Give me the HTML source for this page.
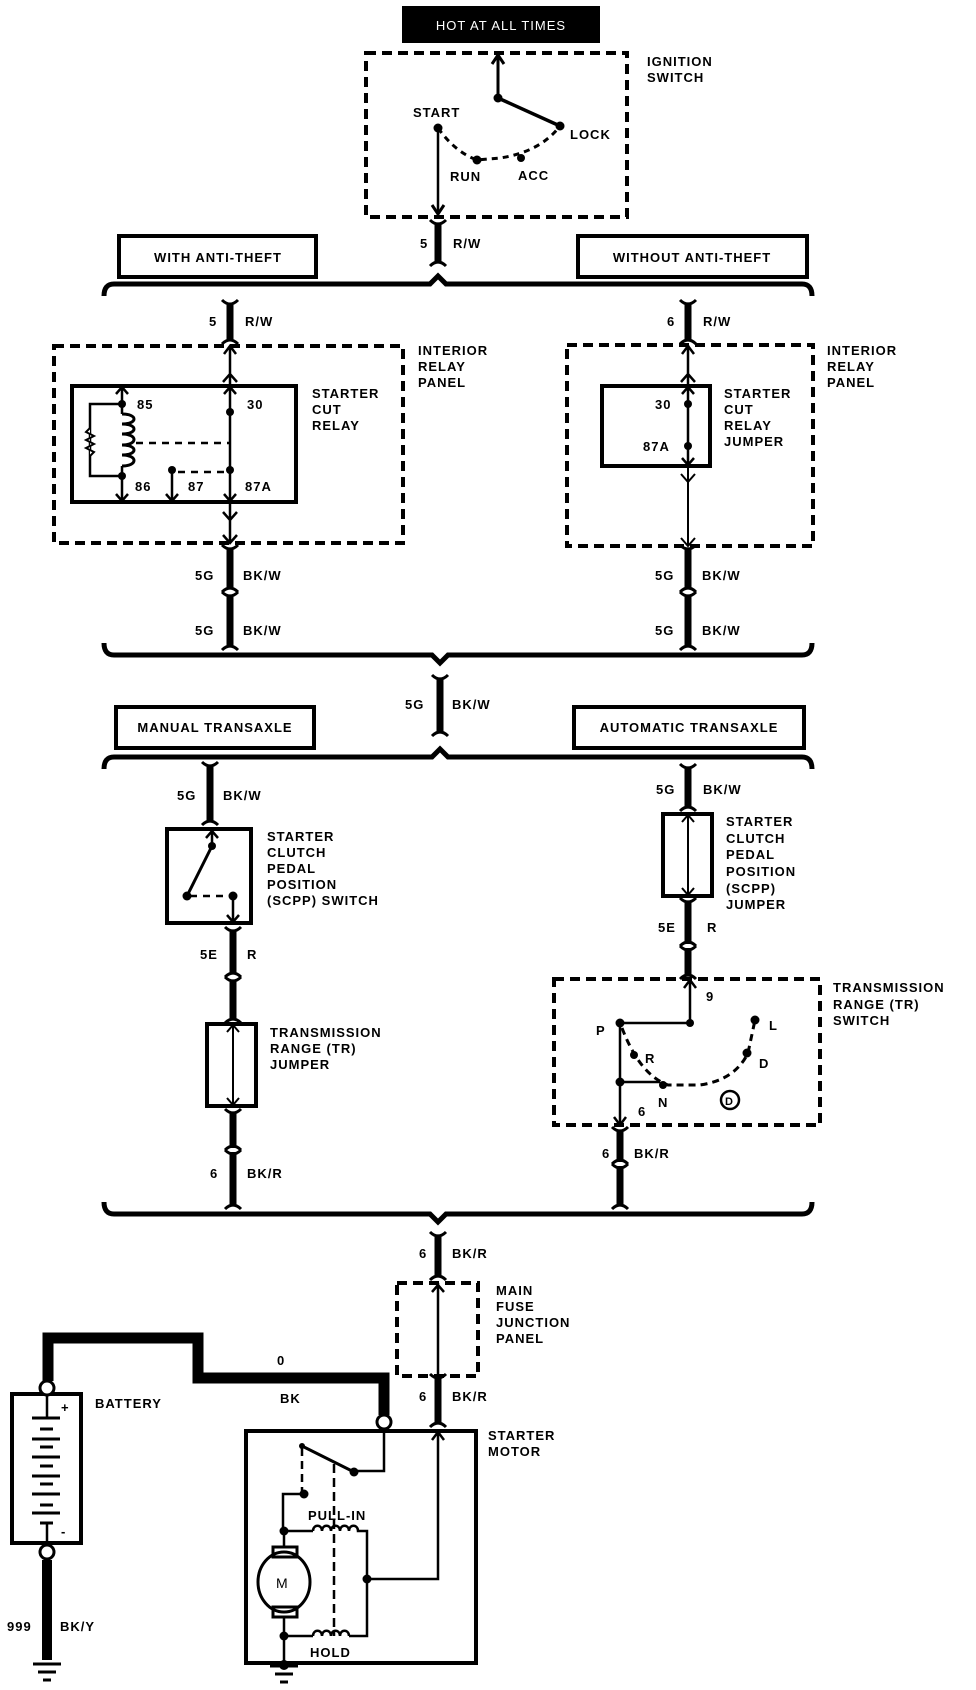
<!DOCTYPE html>
<html><head><meta charset="utf-8"><style>
html,body{margin:0;padding:0;background:#fff}
svg{display:block}
text{font-family:"Liberation Sans",sans-serif;font-weight:bold;font-size:13px;letter-spacing:1px;fill:#000}
</style></head><body>
<svg width="976" height="1690" viewBox="0 0 976 1690" xmlns="http://www.w3.org/2000/svg">
<g stroke="#000" fill="none" stroke-linecap="butt">
<rect x="402" y="6" width="198" height="37" fill="#000" stroke="none"/>
<rect x="366" y="53" width="261" height="164" stroke-width="4" stroke-dasharray="10 6"/>
<line x1="498" y1="98" x2="498" y2="56" stroke-width="3"/>
<path d="M492,64 L498,55 L504,64" stroke-width="3"/>
<line x1="498" y1="98" x2="560" y2="126" stroke-width="3.5"/>
<path d="M438,128 Q455,152 477,160 L500,158 Q540,152 560,126" stroke-width="3" stroke-dasharray="6 5"/>
<line x1="438" y1="128" x2="438" y2="214" stroke-width="2.5"/>
<path d="M432,205 L438,214 L444,205" stroke-width="3"/>
<path d="M104,296 Q104,284 114,284 H430 L438,276 L446,284 H802 Q812,284 812,296" stroke-width="5"/>
<path d="M104,643 Q104,655 114,655 H432 L440,663 L448,655 H802 Q812,655 812,643" stroke-width="5"/>
<path d="M104,769 Q104,757 114,757 H432 L440,749 L448,757 H802 Q812,757 812,769" stroke-width="5"/>
<path d="M104,1202 Q104,1214 114,1214 H430 L438,1222 L446,1214 H802 Q812,1214 812,1202" stroke-width="5"/>
</g>
<g stroke="#000" fill="none" stroke-width="4">
<rect x="119" y="236" width="197" height="41"/>
<rect x="578" y="236" width="229" height="41"/>
<rect x="116" y="707" width="198" height="41"/>
<rect x="574" y="707" width="230" height="41"/>
<rect x="54" y="346" width="349" height="197" stroke-dasharray="10 6"/>
<rect x="72" y="386" width="224" height="116"/>
<rect x="567" y="345" width="246" height="201" stroke-dasharray="10 6"/>
<rect x="602" y="386" width="108" height="80"/>
<rect x="167" y="829" width="84" height="94"/>
<rect x="207" y="1024" width="49" height="82"/>
<rect x="663" y="814" width="49" height="82"/>
<rect x="554" y="979" width="266" height="146" stroke-dasharray="10 6"/>
<rect x="397" y="1283" width="81" height="93" stroke-dasharray="10 6"/>
<rect x="246" y="1431" width="230" height="232"/>
<rect x="12" y="1394" width="69" height="149"/>
</g>
<g stroke="#000" fill="none">
<path stroke-width="7" d="
M438,224V262 M230,304V340 M688,304V340
M230,549V588 M230,596V646 M688,549V588 M688,596V646
M440,679V732 M210,766V821 M688,768V807
M233,931V973 M233,981V1019 M233,1113V1148 M233,1152V1205
M688,902V944 M688,948V975 M620,1131V1162 M620,1166V1205
M438,1236V1276 M438,1378V1423"/>
<path stroke-width="3" d="
M430,220Q438,228 446,220 M430,266Q438,258 446,266
M222,300Q230,308 238,300 M222,344Q230,336 238,344
M680,300Q688,308 696,300 M680,344Q688,336 696,344
M222,545Q230,553 238,545 M222,592Q230,584 238,592 M222,592Q230,600 238,592 M222,650Q230,642 238,650
M680,545Q688,553 696,545 M680,592Q688,584 696,592 M680,592Q688,600 696,592 M680,650Q688,642 696,650
M432,675Q440,683 448,675 M432,736Q440,728 448,736
M202,762Q210,770 218,762 M202,825Q210,817 218,825
M680,764Q688,772 696,764 M680,811Q688,803 696,811
M225,927Q233,935 241,927 M225,977Q233,969 241,977 M225,977Q233,985 241,977 M225,1023Q233,1015 241,1023
M225,1109Q233,1117 241,1109 M225,1150Q233,1142 241,1150 M225,1150Q233,1158 241,1150 M225,1209Q233,1201 241,1209
M680,898Q688,906 696,898 M680,946Q688,938 696,946 M680,946Q688,954 696,946 M680,979Q688,971 696,979
M612,1127Q620,1135 628,1127 M612,1164Q620,1156 628,1164 M612,1164Q620,1172 628,1164 M612,1209Q620,1201 628,1209
M430,1232Q438,1240 446,1232 M430,1280Q438,1272 446,1280
M430,1374Q438,1382 446,1374 M430,1427Q438,1419 446,1427"/>
</g>
<g stroke="#000" fill="none" stroke-width="2.5">
<path d="M230,346V386 M224,354L230,346L236,354 M223,382L230,374L237,382"/>
<path d="M230,502V543 M223,512L230,520L237,512 M223,535L230,543L237,535"/>
<path d="M122,386V404 M116,394L122,387L128,394"/>
<path d="M122,476V502 M116,494L122,501L128,494"/>
<path d="M122,404H90V476H122"/>
<path d="M90,428l-4,4l8,4l-8,4l8,4l-8,4l8,4l-4,4" fill="#fff" stroke-width="2"/>
<path d="M122,404V414 M122,466V476"/>
<path d="M122,414c16,0 16,10 0,10c16,0 16,10 0,10c16,0 16,11 0,11c16,0 16,10 0,10c16,0 16,11 0,11" stroke-width="3"/>
<path d="M136,443H230" stroke-dasharray="7 6"/>
<path d="M230,386V502 M224,394L230,387L236,394 M224,494L230,501L236,494"/>
<path d="M172,470V502 M166,494L172,501L178,494"/>
<path d="M178,472H228" stroke-dasharray="7 6"/>
<path d="M688,345V386 M682,354L688,346L694,354 M681,382L688,374L695,382"/>
<path d="M688,386V466 M682,394L688,387L694,394 M682,458L688,465L694,458"/>
<path d="M688,466V546 M681,474L688,482L695,474 M681,538L688,546L695,538" stroke-width="2"/>
<path d="M212,829V846 M206,838L212,831L218,838"/>
<path d="M212,846L187,896" stroke-width="3"/>
<path d="M190,896H230" stroke-dasharray="7 6"/>
<path d="M233,896V923 M227,915L233,922L239,915"/>
<path d="M233,1024V1106 M227,1032L233,1025L239,1032 M227,1098L233,1105L239,1098" stroke-width="2"/>
<path d="M688,814V896 M682,822L688,815L694,822 M682,888L688,895L694,888" stroke-width="2"/>
<path d="M690,979V1023H620V1125 M684,988L690,980L696,988"/>
<path d="M614,1117L620,1125L626,1117"/>
<path d="M620,1082H660"/>
<path d="M622,1028Q640,1075 668,1085 L700,1085 Q735,1080 748,1053 L755,1020" stroke-dasharray="7 5" stroke-width="3"/>
<circle cx="730" cy="1100" r="9"/>
<path d="M438,1283V1376 M432,1292L438,1285L444,1292"/>
<path d="M384,1429V1471H354"/>
<path d="M302,1446L354,1472" stroke-width="3"/>
<path d="M302,1448V1494" stroke-dasharray="8 5"/>
<path d="M334,1464V1636" stroke-dasharray="9 5"/>
<path d="M304,1494H283V1531H313"/>
<path d="M313,1531c0,-7 9,-7 9,0c0,-7 9,-7 9,0c0,-7 9,-7 9,0c0,-7 9,-7 9,0c0,-7 9,-7 9,0H367V1636H349"/>
<path d="M313,1636c0,-7 9,-7 9,0c0,-7 9,-7 9,0c0,-7 9,-7 9,0c0,-7 9,-7 9,0 M313,1636H284"/>
<path d="M367,1579H438V1431 M432,1440L438,1432L444,1440"/>
<path d="M284,1531V1547 M284,1617V1665"/>
<rect x="273" y="1547" width="24" height="10" stroke-width="3"/>
<rect x="273" y="1607" width="24" height="10" stroke-width="3"/>
<ellipse cx="284" cy="1582" rx="26" ry="30" stroke-width="3"/>
<path d="M48,1381V1338H198V1378H384V1415" stroke-width="11" stroke-linejoin="miter"/>
<circle cx="47" cy="1388" r="7" fill="#fff" stroke-width="3"/>
<circle cx="384" cy="1422" r="7" fill="#fff" stroke-width="3"/>
<circle cx="47" cy="1552" r="7" fill="#fff" stroke-width="3"/>
<path d="M47,1395V1418 M47,1523V1545"/>
<path d="M47,1560V1660" stroke-width="10"/>
<path d="M33,1664H61 M38,1672H56 M43,1680H51" stroke-width="3"/>
<path d="M270,1666H298 M275,1674H293 M280,1682H288" stroke-width="3"/>
<path d="M32,1418H60 M32,1439H60 M32,1457H60 M32,1476H60 M32,1494H60 M32,1513H60" stroke-width="3"/>
<path d="M40,1429H53 M40,1447H53 M40,1466H53 M40,1484H53 M40,1505H53 M40,1523H53" stroke-width="3"/>
</g>
<g fill="#000">
<circle cx="438" cy="128" r="4.5"/><circle cx="498" cy="98" r="4.5"/><circle cx="560" cy="126" r="4.5"/><circle cx="477" cy="160" r="4.5"/><circle cx="521" cy="158" r="4"/>
<circle cx="122" cy="404" r="4"/><circle cx="122" cy="476" r="4"/><circle cx="230" cy="412" r="4"/><circle cx="230" cy="470" r="4"/><circle cx="172" cy="470" r="4"/>
<circle cx="688" cy="404" r="4"/><circle cx="688" cy="446" r="4"/>
<circle cx="212" cy="846" r="4"/><circle cx="187" cy="896" r="4.5"/><circle cx="233" cy="896" r="4.5"/>
<circle cx="620" cy="1023" r="4.5"/><circle cx="690" cy="1023" r="4"/><circle cx="634" cy="1055" r="4"/><circle cx="620" cy="1082" r="4.5"/><circle cx="663" cy="1085" r="4"/><circle cx="747" cy="1053" r="4.5"/><circle cx="755" cy="1020" r="4.5"/>
<circle cx="354" cy="1472" r="4.5"/><circle cx="304" cy="1494" r="4.5"/><circle cx="302" cy="1446" r="3"/><circle cx="284" cy="1531" r="4.5"/><circle cx="367" cy="1579" r="4.5"/><circle cx="284" cy="1636" r="4.5"/><circle cx="284" cy="1665" r="5"/>
</g>
<text x="501" y="30" text-anchor="middle" style="fill:#fff;font-weight:normal;font-size:13px;letter-spacing:1px">HOT AT ALL TIMES</text>
<text x="647" y="66">IGNITION</text><text x="647" y="82">SWITCH</text>
<text x="413" y="117">START</text><text x="570" y="139">LOCK</text><text x="450" y="181">RUN</text><text x="518" y="180">ACC</text>
<text x="420" y="248">5</text><text x="453" y="248">R/W</text>
<text x="218" y="262" text-anchor="middle">WITH ANTI-THEFT</text>
<text x="692" y="262" text-anchor="middle">WITHOUT ANTI-THEFT</text>
<text x="209" y="326">5</text><text x="245" y="326">R/W</text>
<text x="667" y="326">6</text><text x="703" y="326">R/W</text>
<text x="418" y="355">INTERIOR</text><text x="418" y="371">RELAY</text><text x="418" y="387">PANEL</text>
<text x="827" y="355">INTERIOR</text><text x="827" y="371">RELAY</text><text x="827" y="387">PANEL</text>
<text x="312" y="398">STARTER</text><text x="312" y="414">CUT</text><text x="312" y="430">RELAY</text>
<text x="724" y="398">STARTER</text><text x="724" y="414">CUT</text><text x="724" y="430">RELAY</text><text x="724" y="446">JUMPER</text>
<text x="137" y="409">85</text><text x="247" y="409">30</text><text x="135" y="491">86</text><text x="188" y="491">87</text><text x="245" y="491">87A</text>
<text x="655" y="409">30</text><text x="643" y="451">87A</text>
<text x="195" y="580">5G</text><text x="243" y="580">BK/W</text><text x="195" y="635">5G</text><text x="243" y="635">BK/W</text>
<text x="655" y="580">5G</text><text x="702" y="580">BK/W</text><text x="655" y="635">5G</text><text x="702" y="635">BK/W</text>
<text x="405" y="709">5G</text><text x="452" y="709">BK/W</text>
<text x="215" y="732" text-anchor="middle">MANUAL TRANSAXLE</text>
<text x="689" y="732" text-anchor="middle">AUTOMATIC TRANSAXLE</text>
<text x="177" y="800">5G</text><text x="223" y="800">BK/W</text>
<text x="656" y="794">5G</text><text x="703" y="794">BK/W</text>
<text x="267" y="841">STARTER</text><text x="267" y="857">CLUTCH</text><text x="267" y="873">PEDAL</text><text x="267" y="889">POSITION</text><text x="267" y="905">(SCPP) SWITCH</text>
<text x="726" y="826">STARTER</text><text x="726" y="843">CLUTCH</text><text x="726" y="859">PEDAL</text><text x="726" y="876">POSITION</text><text x="726" y="893">(SCPP)</text><text x="726" y="909">JUMPER</text>
<text x="200" y="959">5E</text><text x="247" y="959">R</text>
<text x="658" y="932">5E</text><text x="707" y="932">R</text>
<text x="270" y="1037">TRANSMISSION</text><text x="270" y="1053">RANGE (TR)</text><text x="270" y="1069">JUMPER</text>
<text x="833" y="992">TRANSMISSION</text><text x="833" y="1009">RANGE (TR)</text><text x="833" y="1025">SWITCH</text>
<text x="706" y="1001">9</text><text x="596" y="1035">P</text><text x="645" y="1063">R</text><text x="658" y="1107">N</text><text x="759" y="1068">D</text><text x="769" y="1030">L</text><text x="638" y="1116">6</text>
<text x="725" y="1105" style="font-size:11px;letter-spacing:0">D</text>
<text x="210" y="1178">6</text><text x="247" y="1178">BK/R</text>
<text x="602" y="1158">6</text><text x="634" y="1158">BK/R</text>
<text x="419" y="1258">6</text><text x="452" y="1258">BK/R</text>
<text x="419" y="1401">6</text><text x="452" y="1401">BK/R</text>
<text x="496" y="1295">MAIN</text><text x="496" y="1311">FUSE</text><text x="496" y="1327">JUNCTION</text><text x="496" y="1343">PANEL</text>
<text x="488" y="1440">STARTER</text><text x="488" y="1456">MOTOR</text>
<text x="95" y="1408">BATTERY</text><text x="277" y="1365">0</text><text x="280" y="1403">BK</text>
<text x="61" y="1412">+</text><text x="61" y="1536">-</text>
<text x="308" y="1520">PULL-IN</text><text x="310" y="1657">HOLD</text>
<text x="276" y="1588" style="font-size:14px;font-weight:normal">M</text>
<text x="7" y="1631">999</text><text x="60" y="1631">BK/Y</text>
</svg>
</body></html>
